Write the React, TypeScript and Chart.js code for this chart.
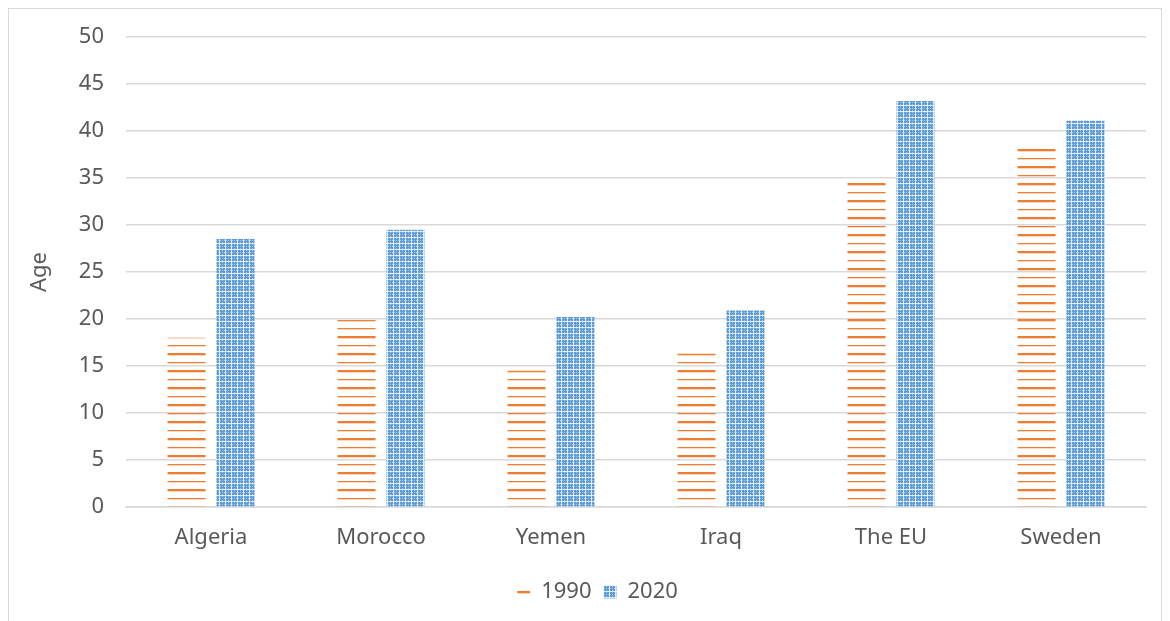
import React, { useEffect, useRef } from "react";
import { Chart, registerables } from "chart.js";

Chart.register(...registerables);

const categories = ["Algeria", "Morocco", "Yemen", "Iraq", "The EU", "Sweden"];
const series1990 = [18.0, 19.9, 14.5, 16.3, 34.5, 38.1];
const series2020 = [28.5, 29.5, 20.2, 20.9, 43.2, 41.1];
const seriesLabels = ["1990", "2020"];
const yTicks = { min: 0, max: 50, step: 5 };

function makeOrangePattern(): CanvasPattern | string {
  const c = document.createElement("canvas");
  c.width = 4;
  c.height = 17;
  const ctx = c.getContext("2d");
  if (!ctx) return "#ED7D31";
  ctx.fillStyle = "#ED7D31";
  ctx.fillRect(0, 4, 4, 2);
  ctx.fillRect(0, 13, 4, 1);
  ctx.fillStyle = "rgba(237,125,49,0.3)";
  ctx.fillRect(0, 6, 4, 1);
  ctx.fillRect(0, 14, 4, 1);
  return ctx.createPattern(c, "repeat") || "#ED7D31";
}

function makeBluePattern(): CanvasPattern | string {
  const c = document.createElement("canvas");
  c.width = 6;
  c.height = 6;
  const ctx = c.getContext("2d");
  if (!ctx) return "#5B9BD5";
  ctx.fillStyle = "#5B9BD5";
  ctx.fillRect(0, 0, 6, 6);
  ctx.fillStyle = "rgba(255,255,255,0.8)";
  ctx.fillRect(0, 0, 1, 6);
  ctx.fillRect(0, 0, 6, 1);
  ctx.fillStyle = "rgba(255,255,255,0.45)";
  ctx.fillRect(3, 3, 1, 1);
  ctx.fillRect(3, 1, 1, 1);
  ctx.fillRect(1, 3, 1, 1);
  ctx.fillRect(5, 3, 1, 1);
  ctx.fillRect(3, 5, 1, 1);
  return ctx.createPattern(c, "repeat") || "#5B9BD5";
}

export default function App() {
  const ref = useRef<HTMLCanvasElement | null>(null);

  useEffect(() => {
    if (!ref.current) return;
    const font = { family: "'Noto Sans', 'Open Sans', sans-serif", size: 22 };
    const chart = new Chart(ref.current, {
      type: "bar",
      data: {
        labels: categories,
        datasets: [
          {
            label: seriesLabels[0],
            data: series1990,
            backgroundColor: makeOrangePattern() as any,
            borderWidth: 0,
            barPercentage: 0.776,
            categoryPercentage: 0.576,
          },
          {
            label: seriesLabels[1],
            data: series2020,
            backgroundColor: makeBluePattern() as any,
            borderWidth: 0,
            barPercentage: 0.776,
            categoryPercentage: 0.576,
          },
        ],
      },
      options: {
        animation: false,
        responsive: false,
        maintainAspectRatio: false,
        layout: { padding: { left: 40, right: 15, top: 28, bottom: 14 } },
        plugins: {
          tooltip: { enabled: false },
          legend: {
            position: "bottom",
            labels: {
              font,
              color: "#595959",
              boxWidth: 13,
              boxHeight: 13,
              padding: 12,
            },
          },
        },
        scales: {
          x: {
            grid: { display: false },
            border: { display: true, color: "#d9d9d9", width: 1.5 },
            ticks: { font, color: "#595959", padding: 10 },
            afterFit: (s: any) => {
              s.height = 62;
            },
          },
          y: {
            min: yTicks.min,
            max: yTicks.max,
            ticks: { stepSize: yTicks.step, font, color: "#595959", padding: 22 },
            grid: { color: "#d9d9d9", lineWidth: 1.5, drawTicks: false },
            border: { display: false },
            title: {
              display: true,
              text: "Age",
              font,
              color: "#595959",
              padding: { top: -22, bottom: 0 },
            },
            afterFit: (s: any) => {
              s.width = 77;
              s.paddingTop = 0;
              s.paddingBottom = 0;
            },
          },
        },
      },
    });
    return () => chart.destroy();
  }, []);

  return (
    <div
      style={{
        position: "absolute",
        left: 8,
        top: 8,
        width: 1154,
        height: 620,
        border: "1px solid #d9d9d9",
        boxSizing: "border-box",
        background: "#fff",
      }}
    >
      <canvas ref={ref} width={1152} height={618} style={{ display: "block" }} />
    </div>
  );
}
